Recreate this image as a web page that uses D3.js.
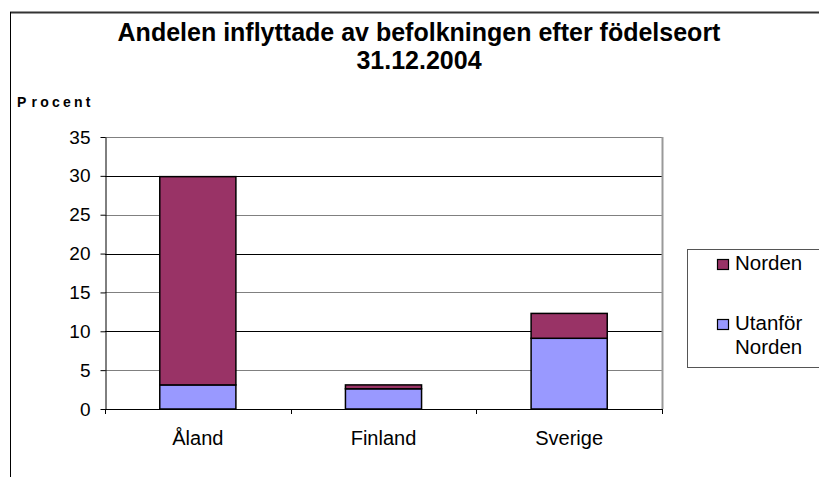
<!DOCTYPE html>
<html><head><meta charset="utf-8">
<script src="https://cdn.jsdelivr.net/npm/d3@7"></script>
<style>
html,body{margin:0;padding:0;background:#fff;}
svg{display:block;font-family:"Liberation Sans",Arial,sans-serif;}
</style></head>
<body><svg id="c" width="819" height="477"></svg>
<script>
const categories = ["Åland", "Finland", "Sverige"];
const utanforNorden = [3.1, 2.6, 9.1];
const norden = [26.8, 0.5, 3.2];
const seriesNames = ["Norden", "Utanför Norden"];
const yTicks = [0, 5, 10, 15, 20, 25, 30, 35];
const titleLines = ["Andelen inflyttade av befolkningen efter födelseort", "31.12.2004"];
const yLabel = "Procent";

const colors = {"Norden": "#993366", "Utanför Norden": "#9999FF"};
const svg = d3.select("#c");
const L = 105, R = 662, T = 137, B = 409;

// outer frame
svg.append("line").attr("x1",10).attr("x2",819).attr("y1",12.5).attr("y2",12.5).attr("stroke","#333").attr("stroke-width",2);
svg.append("line").attr("x1",10.5).attr("x2",10.5).attr("y1",12).attr("y2",477).attr("stroke","#000").attr("stroke-width",1);

// title
svg.selectAll("text.title").data(titleLines).enter().append("text")
  .attr("x", 419).attr("y",(d,i)=>41+i*28).attr("text-anchor","middle")
  .attr("font-weight","bold").attr("font-size",25).attr("fill","#000").text(d=>d);

const yl = svg.append("text").attr("x",17).attr("y",107).attr("font-weight","bold").attr("font-size",14)
  .attr("letter-spacing","3.2px").attr("fill","#000");
yl.append("tspan").text(yLabel.slice(0,1));
yl.append("tspan").attr("dx",2).text(yLabel.slice(1));

const y = d3.scaleLinear().domain([0,35]).range([B,T]);
const x = d3.scaleBand().domain(categories).range([L,R]).paddingInner(0.59).paddingOuter(0.295);

// gridlines
svg.selectAll("line.grid").data(yTicks.filter(v=>v>0)).enter().append("line")
  .attr("x1",L).attr("x2",R).attr("y1",d=>Math.round(y(d))+0.5).attr("y2",d=>Math.round(y(d))+0.5)
  .attr("stroke",(d)=> d%10===0 ? "#000" : "#808080").attr("stroke-width",1);

// plot right border
svg.append("line").attr("x1",R+0.5).attr("x2",R+0.5).attr("y1",T).attr("y2",B).attr("stroke","#999").attr("stroke-width",2);

// bars
const stackData = categories.map((c,i)=>({cat:c, "Utanför Norden":utanforNorden[i], "Norden":norden[i]}));
const stack = d3.stack().keys(["Utanför Norden","Norden"])(stackData);
svg.selectAll("g.layer").data(stack).enter().append("g")
  .attr("fill",d=>colors[d.key])
  .selectAll("rect").data(d=>d).enter().append("rect")
  .attr("x",d=>x(d.data.cat)).attr("width",x.bandwidth())
  .attr("y",d=>y(d[1])).attr("height",d=>y(d[0])-y(d[1]))
  .attr("stroke","#000").attr("stroke-width",1.5);

// y axis
const yAxis = d3.axisLeft(y).tickValues(yTicks).tickSize(5).tickPadding(10).tickSizeOuter(0);
const ya = svg.append("g").attr("transform",`translate(${L+0.5},0)`).call(yAxis);
ya.select(".domain").attr("stroke","#000");
ya.selectAll(".tick line").attr("stroke","#000");
ya.selectAll("text").attr("font-size",19).attr("fill","#000").attr("font-family","Liberation Sans, Arial, sans-serif");

// x axis
svg.append("line").attr("x1",L).attr("x2",R+1).attr("y1",B+0.5).attr("y2",B+0.5).attr("stroke","#000");
const step = (R-L)/categories.length;
svg.selectAll("line.xt").data(d3.range(categories.length+1)).enter().append("line")
  .attr("x1",i=>Math.round(L+i*step)+0.5).attr("x2",i=>Math.round(L+i*step)+0.5)
  .attr("y1",B).attr("y2",B+5).attr("stroke","#000");
svg.selectAll("text.xl").data(categories).enter().append("text")
  .attr("x",d=>x(d)+x.bandwidth()/2).attr("y",445).attr("text-anchor","middle")
  .attr("font-size",20).attr("fill","#000").text(d=>d);

// legend
const lg = svg.append("g");
lg.append("rect").attr("x",687.5).attr("y",249.5).attr("width",140).attr("height",118).attr("fill","#fff").attr("stroke","#555").attr("stroke-width",1);
const legendItems = [{name:"Norden", lines:["Norden"], yy:270},{name:"Utanför Norden", lines:["Utanför","Norden"], yy:330}];
legendItems.forEach(it=>{
  lg.append("rect").attr("x",717.5).attr("y",it.yy-10.5).attr("width",11).attr("height",10).attr("fill",colors[it.name]).attr("stroke","#000").attr("stroke-width",1.2);
  it.lines.forEach((t,j)=>{
    lg.append("text").attr("x",735).attr("y",it.yy+j*24).attr("font-size",20.5).attr("fill","#000").text(t);
  });
});
</script></body></html>
